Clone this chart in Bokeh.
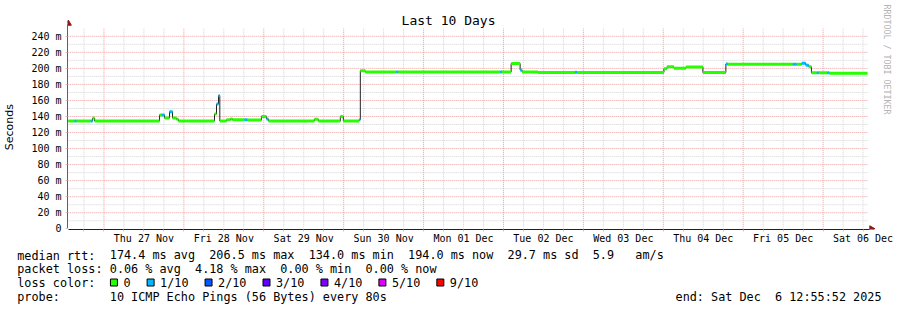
import math
from bokeh.plotting import figure
from bokeh.layouts import column
from bokeh.models import Range1d, FixedTicker
from bokeh.core.properties import value
from bokeh.embed import file_html
from bokeh.resources import INLINE

# ---------------- data (time in hours since Wed 26 Nov 2025 00:00) ----------------
start_time = 13.3
end_time = 253.3

seg_start = [13.3, 15.2, 15.8, 20.0, 20.6, 21.2, 40.7, 41.3, 42.2, 43.7, 44.6, 45.8,
             46.4, 57.2, 57.8, 58.4, 58.8, 60.8, 62.0, 62.6, 66.2, 67.1, 71.3, 72.8,
             73.4, 87.2, 88.4, 95.0, 95.9, 100.6, 101.0, 102.5, 111.8, 112.4, 143.0,
             143.6, 146.3, 149.0, 149.6, 154.4, 165.5, 166.1, 192.2, 193.1, 195.2,
             198.8, 203.9, 210.8, 211.4, 230.9, 232.1, 233.6, 234.8, 235.7, 236.5,
             238.1, 238.7, 241.3, 241.9]
median_ms = [134.4, 134.4, 134.4, 134.4, 138.0, 134.4, 142.0, 142.0, 138.0, 146.0, 138.0, 136.5,
             134.4, 143.0, 155.5, 166.0, 134.4, 135.8, 137.0, 135.8, 135.8, 135.5, 140.0, 137.0,
             134.4, 136.5, 134.4, 140.0, 134.4, 136.0, 197.0, 195.6, 195.6, 195.6, 195.6,
             195.6, 206.0, 198.0, 195.6, 195.0, 195.3, 195.0, 199.5, 202.0, 200.3,
             201.8, 194.8, 205.5, 205.3, 205.0, 205.0, 206.5, 204.0, 202.0, 194.5,
             194.5, 194.5, 194.5, 194.0]
loss_count = [0, 1, 0, 1, 0, 0, 0, 1, 0, 1, 0, 0,
              0, 0, 1, 1, 0, 0, 0, 0, 1, 0, 0, 1,
              0, 0, 0, 0, 0, 1, 0, 0, 1, 0, 1,
              0, 0, 1, 0, 0, 1, 0, 0, 0, 0,
              0, 0, 1, 0, 1, 0, 1, 1, 0, 0,
              1, 0, 1, 0]

loss_levels = [0, 1, 2, 3, 4, 5, 9]
loss_labels = ["0", "1/10", "2/10", "3/10", "4/10", "5/10", "9/10"]
loss_colors = ["#26ff00", "#00b8ff", "#0059ff", "#5e00ff", "#7e00ff", "#dd00ff", "#ff0000"]

day_labels = ["Thu 27 Nov", "Fri 28 Nov", "Sat 29 Nov", "Sun 30 Nov", "Mon 01 Dec",
              "Tue 02 Dec", "Wed 03 Dec", "Thu 04 Dec", "Fri 05 Dec", "Sat 06 Dec"]
noon_ticks = [36, 60, 84, 108, 132, 156, 180, 204, 228, 252]
midnight_ticks = [24, 48, 72, 96, 120, 144, 168, 192, 216, 240]
quarter_ticks = list(range(18, 253, 6))

y_max = 250
y_ticks = list(range(0, 241, 20))
y_tick_labels = ["0"] + ["%d m" % v for v in range(20, 241, 20)]
y_minor = list(range(10, 250, 20))

title_text = "Last 10 Days"
y_title = "Seconds"
legend_heads = ["median rtt:", "packet loss:", "loss color:", "probe:"]
legend_values = [
    "174.4 ms avg  206.5 ms max  134.0 ms min  194.0 ms now  29.7 ms sd  5.9   am/s",
    "0.06 % avg  4.18 % max  0.00 % min  0.00 % now",
    "",
    "10 ICMP Echo Pings (56 Bytes) every 80s",
]
end_text = "end: Sat Dec  6 12:55:52 2025"
watermark = "RRDTOOL / TOBI OETIKER"

MONO = "DejaVu Sans Mono"
NB = "\u00a0"
W = 897
MAIN_H = 248
FRAME_LEFT = 66
FRAME_BOTTOM = 229          # canvas y of frame bottom
ZERO_PX = 228.3             # canvas y of value 0
PX_PER_MS = 0.8021
H_PER_PX = 0.3
X_LO = 24 - (102.5 - FRAME_LEFT) * H_PER_PX   # time at frame left edge


def dx(px):
    return X_LO + (px - FRAME_LEFT) * H_PER_PX


def dy(py):
    return (ZERO_PX - py) / PX_PER_MS


def keep_spaces(s):
    return s.replace(" ", NB)


x_hi = dx(W)
y_lo = dy(FRAME_BOTTOM)
y_hi = dy(0)

p = figure(width=W, height=MAIN_H, output_backend="svg", toolbar_location=None,
           x_range=Range1d(X_LO, x_hi), y_range=Range1d(y_lo, y_hi),
           min_border_left=FRAME_LEFT, min_border_right=0, min_border_top=0,
           min_border_bottom=MAIN_H - FRAME_BOTTOM, title=None)
p.outline_line_color = None
p.background_fill_color = "white"
p.border_fill_color = "white"
p.xgrid.visible = False
p.ygrid.visible = False

arrow_x = dx(871)
arrow_y = dy(23)

# x axis
xa = p.xaxis[0]
xa.bounds = (start_time, dx(869))
xa.ticker = FixedTicker(ticks=noon_ticks, minor_ticks=quarter_ticks)
xa.major_label_overrides = {t: l for t, l in zip(noon_ticks, day_labels)}
xa.axis_line_color = "#202020"
xa.major_tick_line_color = None
xa.major_tick_out = 0
xa.major_tick_in = 0
xa.minor_tick_line_color = "#c8c8c8"
xa.minor_tick_out = 2
xa.minor_tick_in = 0
xa.major_label_standoff = 1
xa.major_label_text_font = MONO
xa.major_label_text_font_size = "10px"
xa.major_label_text_color = "#000000"

# y axis
ya = p.yaxis[0]
ya.bounds = (0, dy(24))
ya.ticker = FixedTicker(ticks=y_ticks, minor_ticks=[])
ya.major_label_overrides = {t: l for t, l in zip(y_ticks, y_tick_labels)}
ya.axis_line_color = "#606060"
ya.major_tick_line_color = "#c8c8c8"
ya.major_tick_out = 2
ya.major_tick_in = 0
ya.minor_tick_line_color = None
ya.major_label_standoff = 4
ya.major_label_text_font = MONO
ya.major_label_text_font_size = "10px"
ya.major_label_text_color = "#000000"
# trailing no-break spaces move the visible word down to the centre of the value area
ya.axis_label = y_title + NB * 7
ya.axis_label_text_font = "DejaVu Sans"
ya.axis_label_text_font_size = "11px"
ya.axis_label_text_font_style = "normal"
ya.axis_label_text_color = "#000000"
ya.axis_label_standoff = 12

# grid lines (drawn by hand so they stop at the chart's top value)
minor_v = [t for t in quarter_ticks if t % 24 != 0]
p.segment(x0=minor_v, x1=minor_v, y0=[0] * len(minor_v), y1=[y_max] * len(minor_v),
          line_color="#d4d4d4", line_dash="1 1", line_width=1)
p.segment(x0=midnight_ticks, x1=midnight_ticks, y0=[0] * len(midnight_ticks),
          y1=[y_max] * len(midnight_ticks), line_color="#f09c9c", line_dash="1 1",
          line_width=1)
p.segment(x0=[start_time] * len(y_minor), x1=[end_time] * len(y_minor), y0=y_minor,
          y1=y_minor, line_color="#d4d4d4", line_dash="1 1", line_width=1)
p.segment(x0=[start_time] * (len(y_ticks) - 1), x1=[end_time] * (len(y_ticks) - 1),
          y0=y_ticks[1:], y1=y_ticks[1:], line_color="#e8a0a0", line_dash="1 1",
          line_width=1)

# ---------------- data glyphs ----------------
seg_end = seg_start[1:] + [end_time]
color_of = dict(zip(loss_levels, loss_colors))
seg_colors = [color_of[c] for c in loss_count]

p.step(x=seg_start + [end_time], y=median_ms + [median_ms[-1]], mode="after",
       line_color="#202020", line_width=1)
p.segment(x0=seg_start, x1=seg_end, y0=median_ms, y1=median_ms,
          line_color=seg_colors, line_width=3, line_cap="butt")

# arrows at the axis ends
p.scatter(x=[start_time], y=[arrow_y], marker="triangle", size=6,
          fill_color="#8b1a1a", line_color="#8b1a1a")
p.scatter(x=[arrow_x], y=[0], marker="triangle", size=6, angle=-math.pi / 2,
          fill_color="#8b1a1a", line_color="#8b1a1a")

# title and watermark
p.text(x=[dx(447.5)], y=[dy(19.5)], text=[title_text], text_align="center",
       text_baseline="middle", text_font=value(MONO), text_font_size="13px",
       text_color="#000000")
p.text(x=[dx(886)], y=[dy(59)], text=[keep_spaces(watermark)], text_align="center",
       text_baseline="middle", angle=-math.pi / 2, text_font=value(MONO),
       text_font_size="8.3px", text_color="#b4b4b4")

# ---------------- legend area (x / y in page pixels) ----------------
LEG_H = 310 - MAIN_H
lg = figure(width=W, height=LEG_H, output_backend="svg", toolbar_location=None,
            x_range=Range1d(FRAME_LEFT, W), y_range=Range1d(310, MAIN_H),
            x_axis_location=None, y_axis_location="left", title=None,
            min_border_left=FRAME_LEFT, min_border_right=0, min_border_top=0,
            min_border_bottom=0)
lg.outline_line_color = None
lg.xgrid.visible = False
lg.ygrid.visible = False
lg.background_fill_color = "white"
lg.border_fill_color = "white"

char_w = 7.104
row_y = [254, 268, 282, 296]
head_w = max(len(h) for h in legend_heads)

# row heads: left axis labels, padded to equal width so they line up at x = 16
la = lg.yaxis[0]
la.ticker = FixedTicker(ticks=row_y, minor_ticks=[])
la.major_label_overrides = {y: h + NB * (head_w - len(h))
                            for y, h in zip(row_y, legend_heads)}
la.axis_line_color = None
la.major_tick_line_color = None
la.minor_tick_line_color = None
la.major_tick_out = 0
la.major_tick_in = 0
la.major_label_standoff = int(round(FRAME_LEFT - (16 + head_w * char_w)))
la.major_label_text_font = MONO
la.major_label_text_font_size = "11.8px"
la.major_label_text_color = "#000000"

val_x = 16 + 13 * char_w
rows = [(v, y) for v, y in zip(legend_values, row_y) if v]
lg.text(x=[val_x] * len(rows), y=[r[1] for r in rows],
        text=[keep_spaces(r[0]) for r in rows], text_align="left",
        text_baseline="middle", text_font=value(MONO), text_font_size="11.8px",
        text_color="#000000")
lg.text(x=[881], y=[row_y[3]], text=[keep_spaces(end_text)], text_align="right",
        text_baseline="middle", text_font=value(MONO), text_font_size="11.8px",
        text_color="#000000")

box_left, lab_x = [], []
lx = 122.0
for lab in loss_labels:
    lab_x.append(lx)
    box_left.append(lx - 13)
    lx = lx + len(lab) * char_w + 29.6
lg.quad(left=box_left, right=[b + 7 for b in box_left], top=[278.5] * len(box_left),
        bottom=[285.5] * len(box_left), fill_color=loss_colors, line_color="#000000",
        line_width=1)
lg.text(x=lab_x, y=[row_y[2]] * len(lab_x), text=loss_labels, text_align="left",
        text_baseline="middle", text_font=value(MONO), text_font_size="11.8px",
        text_color="#000000")

layout = column(p, lg, spacing=0)
open("out.html", "w").write(file_html(layout, INLINE))
